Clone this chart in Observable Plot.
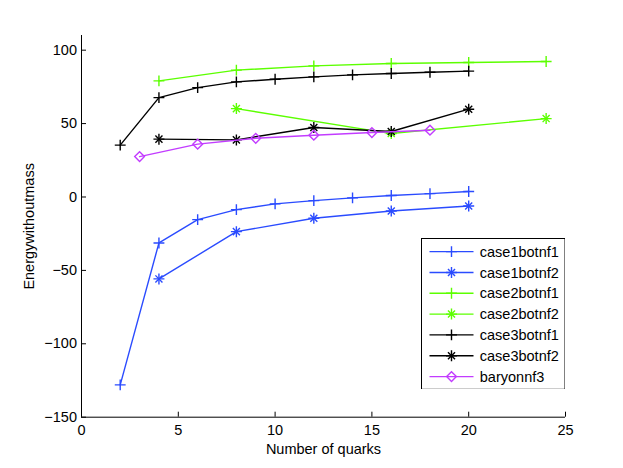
<!DOCTYPE html>
<html><head><meta charset="utf-8">
<script src="https://cdn.jsdelivr.net/npm/d3@7"></script>
<script src="https://cdn.jsdelivr.net/npm/@observablehq/plot@0.6"></script>
<style>
body{margin:0;background:#fff;}
#wrap{position:relative;width:623px;height:468px;font-family:"Liberation Sans",Arial,sans-serif;}
#legend{position:absolute;left:420.5px;top:237.5px;}
</style></head><body><div id="wrap"></div>
<script>
// ---- data ----
const xTicks = [0, 5, 10, 15, 20, 25];
const yTicks = [-150, -100, -50, 0, 50, 100];
const xDomain = [0, 25];
const yDomain = [-150, 110];
const xLabel = "Number of quarks";
const yLabel = "Energywithoutmass";

const case1botnf1X = [2, 4, 6, 8, 10, 12, 14, 16, 18, 20];
const case1botnf1Y = [-128, -31.3, -15.4, -8.6, -4.7, -2.5, -0.6, 1.0, 2.3, 3.7];
const case1botnf2X = [4, 8, 12, 16, 20];
const case1botnf2Y = [-55.8, -23.6, -14.5, -9.5, -6.1];
const case2botnf1X = [4, 8, 12, 16, 20, 24];
const case2botnf1Y = [79.1, 86.4, 89.3, 90.9, 91.6, 92.3];
const case2botnf2X = [8, 16, 24];
const case2botnf2Y = [60.2, 43.2, 53.4];
const case3botnf1X = [2, 4, 6, 8, 10, 12, 14, 16, 18, 20];
const case3botnf1Y = [35.3, 67.7, 74.5, 78.4, 80.2, 81.8, 83.2, 84.1, 85.0, 85.7];
const case3botnf2X = [4, 8, 12, 16, 20];
const case3botnf2Y = [39.4, 38.9, 47.3, 44.6, 59.8];
const baryonnf3X = [3, 6, 9, 12, 15, 18];
const baryonnf3Y = [27.5, 36, 40, 42.1, 43.9, 45.5];

const seriesNames = ["case1botnf1", "case1botnf2", "case2botnf1", "case2botnf2", "case3botnf1", "case3botnf2", "baryonnf3"];
const seriesColors = ["#2a4bff", "#2a4bff", "#5cff00", "#5cff00", "#000000", "#000000", "#c23cff"];
const seriesMarkers = ["plus", "asterisk", "plus", "asterisk", "plus", "asterisk", "diamond"];
const seriesX = [case1botnf1X, case1botnf2X, case2botnf1X, case2botnf2X, case3botnf1X, case3botnf2X, baryonnf3X];
const seriesY = [case1botnf1Y, case1botnf2Y, case2botnf1Y, case2botnf2Y, case3botnf1Y, case3botnf2Y, baryonnf3Y];

// ---- style ----
const FONT = '"Liberation Sans", Arial, sans-serif';
const FS = 14.5;
const LW = 1.4;
const markerR = {plus: 3.6, asterisk: 3.3, diamond: 4.4};

function markerMarks(data, kind, color) {
  if (kind === "plus") return [Plot.dot(data, {x: "x", y: "y", symbol: "plus", r: markerR.plus, stroke: color, strokeWidth: LW})];
  if (kind === "asterisk") return [
    Plot.dot(data, {x: "x", y: "y", symbol: "plus", r: markerR.asterisk * 1.1, stroke: color, strokeWidth: LW}),
    Plot.dot(data, {x: "x", y: "y", symbol: "times", r: markerR.asterisk, stroke: color, strokeWidth: LW})
  ];
  return [Plot.dot(data, {x: "x", y: "y", symbol: "diamond2", r: markerR.diamond, stroke: color, strokeWidth: LW, fill: "none"})];
}

const marks = [];
seriesNames.forEach((name, i) => {
  const data = seriesX[i].map((x, j) => ({x, y: seriesY[i][j], name}));
  marks.push(Plot.line(data, {x: "x", y: "y", stroke: seriesColors[i], strokeWidth: LW}));
  marks.push(...markerMarks(data, seriesMarkers[i], seriesColors[i]));
});

const chart = Plot.plot({
  width: 623, height: 468,
  marginLeft: 81, marginRight: 58, marginTop: 35, marginBottom: 51.3,
  style: {fontFamily: FONT, fontSize: FS + "px", background: "#fff", color: "#000"},
  x: {domain: xDomain},
  y: {domain: yDomain},
  marks: [
    Plot.axisX({ticks: xTicks, tickSize: -5, tickPadding: 13, label: xLabel, labelAnchor: "center", labelArrow: false, labelOffset: 37, fontSize: FS, stroke: "#000"}),
    Plot.axisY({ticks: yTicks, tickSize: -5, tickPadding: 9.5, label: yLabel, labelAnchor: "center", labelArrow: false, labelOffset: 58, fontSize: FS, stroke: "#000"}),
    Plot.ruleX([xDomain[0]], {stroke: "#000", strokeWidth: 1}),
    Plot.ruleY([yDomain[0]], {stroke: "#000", strokeWidth: 1}),
    ...marks
  ]
});
const wrap = document.getElementById("wrap");
wrap.appendChild(chart);

// ---- legend ----
const LEG_W = 143.5, ROW_H = 20.83, LEG_H = 150.8;
const leg = d3.select(wrap).append("svg").attr("id", "legend")
  .attr("width", LEG_W + 1).attr("height", LEG_H + 1);
leg.append("rect").attr("x", 0.5).attr("y", 0.5).attr("width", LEG_W).attr("height", LEG_H)
  .attr("fill", "#fff").attr("stroke", "#000").attr("stroke-width", 1);
seriesNames.forEach((name, i) => {
  const cy = 13.6 + i * ROW_H;
  const g = leg.append("g").attr("transform", `translate(0,${cy})`);
  g.append("line").attr("x1", 8.5).attr("x2", 52.5).attr("y1", 0).attr("y2", 0)
    .attr("stroke", seriesColors[i]).attr("stroke-width", LW);
  const kinds = seriesMarkers[i] === "plus" ? [[d3.symbolPlus, markerR.plus]]
    : seriesMarkers[i] === "asterisk" ? [[d3.symbolPlus, markerR.asterisk * 1.1], [d3.symbolTimes, markerR.asterisk]]
    : [[d3.symbolDiamond2, markerR.diamond]];
  kinds.forEach(([sym, r]) => {
    g.append("path").attr("transform", "translate(30.5,0)")
      .attr("d", d3.symbol(sym, Math.PI * r * r)())
      .attr("fill", "none").attr("stroke", seriesColors[i]).attr("stroke-width", LW);
  });
  g.append("text").attr("x", 58.8).attr("y", 0).attr("dy", "0.35em")
    .attr("font-family", FONT).attr("font-size", FS).attr("fill", "#000").text(name);
});
</script></body></html>
